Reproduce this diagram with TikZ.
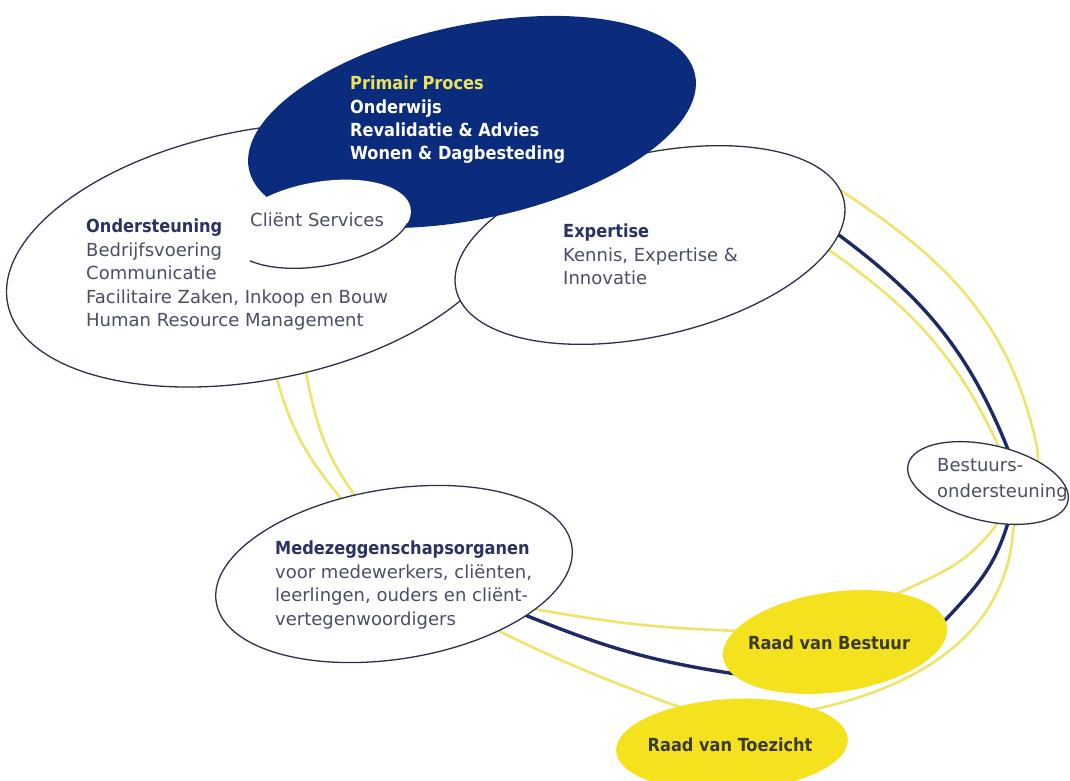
\documentclass[tikz,border=0pt]{standalone}
\usepackage{fontspec}
\setmainfont{DejaVu Sans}[BoldFont={DejaVu Sans Condensed Bold}]
\usepackage{tikz}
\usetikzlibrary{positioning,shapes.geometric}
\definecolor{primnavy}{HTML}{0B2C7C}
\definecolor{ringnavy}{HTML}{1D2A63}
\definecolor{edgegray}{HTML}{2C3048}
\definecolor{raadyellow}{HTML}{F4E21E}
\definecolor{lineyellow}{HTML}{EEE46C}
\definecolor{titlenavy}{HTML}{2A3163}
\definecolor{bodygray}{HTML}{4A4F63}
\definecolor{primyellow}{HTML}{E9E25A}
\definecolor{raadtext}{HTML}{3B3A2E}
\newcommand{\kop}[1]{\textbf{\textcolor{titlenavy}{#1}}}

\begin{document}
\begin{tikzpicture}[
  x=1pt, y=-1pt,
  blob/.style={ellipse, draw=edgegray, line width=1.3pt, fill=white, inner sep=0pt},
  darkblob/.style={blob, draw=none, fill=primnavy},
  raadblob/.style={blob, draw=none, fill=raadyellow},
  txt/.style={inner sep=0pt, anchor=north west, align=left, text=bodygray, font=\fontsize{18}{23.5}\selectfont},
  raadtxt/.style={inner sep=0pt, anchor=center, text=raadtext, font=\fontsize{18}{23.5}\selectfont\bfseries},
  ring/.style={line width=3.4pt, ringnavy},
  lijn/.style={line width=2.6pt, lineyellow}
]
\useasboundingbox (0,0) rectangle (1070,781);
% rings
\coordinate (d1) at (828,227);
\coordinate (d2) at (1007,447);
\coordinate (d3) at (1005,532);
\coordinate (d4) at (950,615);
\coordinate (d5) at (723,672);
\coordinate (d6) at (520,613);
\coordinate (a1) at (822,245);
\coordinate (a2) at (998,445);
\coordinate (a3) at (990,533);
\coordinate (a4) at (905,590);
\coordinate (a5) at (740,631);
\coordinate (a6) at (540,610);
\coordinate (a7) at (353,493);
\coordinate (a8) at (305,368);
\coordinate (b1) at (840,190);
\coordinate (b2) at (1037,447);
\coordinate (b3) at (1013,533);
\coordinate (b4) at (820,708);
\coordinate (b5) at (660,700);
\coordinate (b6) at (507,635);
\coordinate (b7) at (340,497);
\coordinate (b8) at (275,372);
\draw[lijn] (a1) to[out=-35,in=115] (a2) to[out=-65,in=50] (a3) to[out=-130,in=25] (a4)
  to[out=-155,in=-2] (a5) to[out=178,in=-10] (a6) to[out=170,in=-55] (a7) to[out=125,in=-79] (a8);
\draw[lijn] (b1) to[out=-33,in=102] (b2) to[out=-80,in=85] (b3) to[out=-95,in=13] (b4)
  to[out=-167,in=-21] (b5) to[out=159,in=-26] (b6) to[out=154,in=-50] (b7) to[out=130,in=-75] (b8);
\draw[ring] (d1) to[out=-36,in=112] (d2) to[out=-68,in=71] (d3) to[out=-109,in=47] (d4)
  to[out=-133,in=-9] (d5) to[out=171,in=-22] (d6);
% ellipses
\node[blob, minimum width=510pt, minimum height=250pt, rotate=11] (onder) at (258,255) {};
\node[blob, minimum width=398pt, minimum height=182pt, rotate=13] (expert) at (650,245) {};
\node[darkblob, minimum width=456pt, minimum height=194pt, rotate=12] (prim) at (472,122) {};
\node[blob, draw=none, minimum width=184pt, minimum height=84pt, rotate=10] (client) at (320,224) {};
\draw[edgegray, line width=1.3pt, shift={(client.center)}, rotate=10]
  (215:92pt and 42pt) arc[start angle=215, end angle=340, x radius=92pt, y radius=42pt];
\node[blob, minimum width=164pt, minimum height=76pt, rotate=-13] (bestuur) at (988,483) {};
\node[blob, minimum width=360pt, minimum height=170pt, rotate=9] (mede) at (394,574) {};
\node[raadblob, minimum width=226pt, minimum height=100pt, rotate=8] (rvb) at (835,642) {};
\node[raadblob, minimum width=232pt, minimum height=92pt, rotate=3] (rvt) at (732,745) {};
% text
\node[txt, text=white, font=\fontsize{18}{23.3}\selectfont\bfseries] (primtxt) at (350,76)
  {\textcolor{primyellow}{Primair Proces}\\ Onderwijs\\ Revalidatie \& Advies\\ Wonen \& Dagbesteding};
\node[txt] (ondertxt) at (86,219) {\kop{Ondersteuning}\\ Bedrijfsvoering\\ Communicatie\\
  Facilitaire Zaken, Inkoop en Bouw\\ Human Resource Management};
\node[txt] (clienttxt) at (250,213) {Cliënt Services};
\node[txt] (experttxt) at (563,224) {\kop{Expertise}\\ Kennis, Expertise \&\\ Innovatie};
\node[txt, font=\fontsize{18}{26}\selectfont] (bestuurtxt) at (937,458) {Bestuurs-\\ ondersteuning};
\node[txt] (medetxt) at (275,541) {\kop{Medezeggenschapsorganen}\\ voor medewerkers, cliënten,\\
  leerlingen, ouders en cliënt-\\ vertegenwoordigers};
\node[raadtxt] (rvbtxt) at (829,643) {Raad van Bestuur};
\node[raadtxt] (rvttxt) at (730,745) {Raad van Toezicht};
\end{tikzpicture}
\end{document}
